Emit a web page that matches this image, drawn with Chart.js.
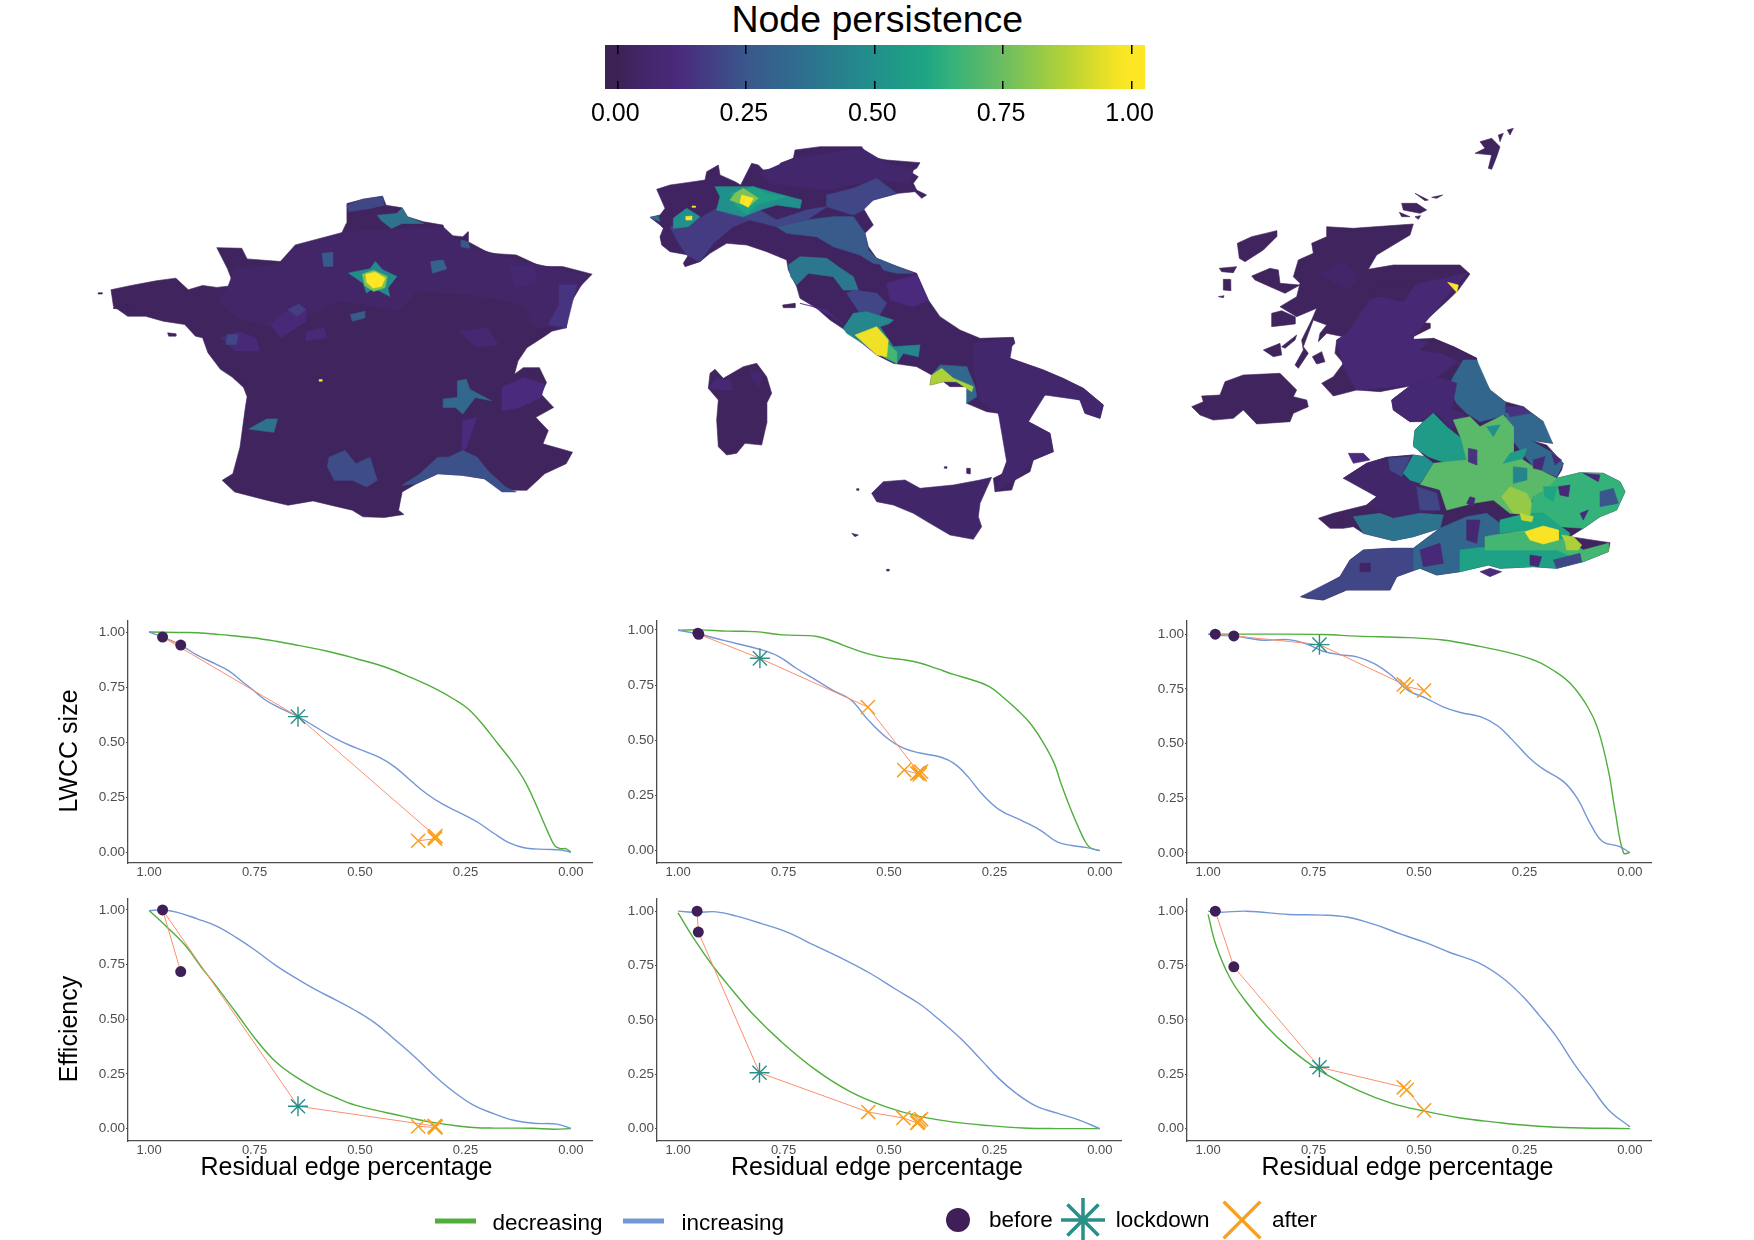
<!DOCTYPE html>
<html><head><meta charset="utf-8"><title>Node persistence</title>
<script src="https://cdn.jsdelivr.net/npm/chart.js@4"></script>
<style>
html,body{margin:0;padding:0;background:#fff;width:1754px;height:1240px;overflow:hidden;font-family:"Liberation Sans",Arial,sans-serif;color:#000}
canvas{position:absolute;display:block}
.t{position:absolute;white-space:nowrap;line-height:1}
.c{transform:translate(-50%,-50%)}
.r{transform:translate(-50%,-50%) rotate(-90deg)}
.l{transform:translateY(-50%);font-size:22.5px}
</style></head><body>
<script>
/* ---------- tick labels ---------- */
const xTicks=[1,0.75,0.5,0.25,0];
const yTicks=[0,0.25,0.5,0.75,1];
const colorbarTicks=[0,0.25,0.5,0.75,1];
const colorbarRange=[-0.0239,1.0261];
const colorStops=[0,0.05,0.12,0.25,0.375,0.5,0.6,0.65,0.75,0.875,0.97,1];
const colorValues=['#3d2255','#42266a','#4a2a7c','#3a578c','#2d728e','#21908c','#1ea583','#34b27a','#6cbd61','#b5d335','#f5e324','#fde725'];

/* ---------- curves: [edge share, metric] ---------- */
const lwccFranceDecreasing=[[1,1],[.933,.998],[.886,.997],[.83,.988],[.755,.974],[.699,.958],[.643,.938],[.577,.913],[.511,.88],[.436,.838],[.38,.794],[.324,.745],[.277,.695],[.244,.652],[.211,.585],[.173,.493],[.136,.402],[.108,.319],[.08,.205],[.056,.099],[.038,.03],[.023,.017],[.012,.017],[0,0]];
const lwccFranceIncreasing=[[1,1],[.968,.977],[.925,.941],[.886,.895],[.844,.857],[.811,.824],[.783,.781],[.755,.739],[.727,.695],[.699,.664],[.647,.616],[.605,.569],[.558,.516],[.511,.475],[.455,.432],[.417,.387],[.38,.326],[.342,.266],[.305,.22],[.258,.175],[.221,.137],[.183,.087],[.146,.043],[.108,.02],[.061,.014],[.023,.011],[0,0]];
const effFranceIncreasing=[[1,.997],[.968,1],[.933,.989],[.886,.959],[.839,.925],[.792,.872],[.745,.811],[.699,.745],[.647,.682],[.605,.635],[.558,.589],[.511,.54],[.464,.482],[.417,.406],[.37,.327],[.324,.243],[.277,.167],[.23,.106],[.183,.068],[.136,.038],[.089,.024],[.033,.02],[0,0]];
const effFranceDecreasing=[[1,.997],[.961,.928],[.914,.837],[.876,.738],[.839,.647],[.792,.525],[.745,.403],[.699,.304],[.652,.236],[.605,.183],[.558,.142],[.511,.107],[.464,.084],[.417,.064],[.37,.044],[.324,.027],[.277,.014],[.23,.005],[.183,.002],[.136,.002],[.089,.001],[.04,-.003],[0,0]];
const lwccItalyDecreasing=[[1,.998],[.949,1],[.883,.994],[.818,.992],[.753,.977],[.671,.97],[.631,.947],[.59,.917],[.549,.891],[.508,.874],[.467,.865],[.427,.85],[.386,.824],[.345,.797],[.304,.774],[.263,.744],[.231,.697],[.198,.641],[.165,.576],[.133,.485],[.108,.394],[.092,.303],[.071,.197],[.051,.106],[.034,.038],[.022,.012],[0,0]];
const lwccItalyIncreasing=[[1,.998],[.953,.982],[.892,.952],[.802,.909],[.761,.879],[.72,.826],[.671,.77],[.631,.724],[.59,.682],[.549,.591],[.508,.515],[.467,.465],[.427,.442],[.378,.424],[.345,.394],[.312,.333],[.28,.258],[.239,.186],[.182,.133],[.14,.091],[.1,.038],[.067,.023],[.034,.015],[0,0]];
const effItalyIncreasing=[[1,1],[.955,.994],[.91,.997],[.861,.977],[.804,.944],[.739,.901],[.674,.84],[.608,.779],[.542,.711],[.485,.642],[.428,.574],[.379,.498],[.33,.414],[.281,.315],[.24,.231],[.199,.163],[.15,.102],[.101,.071],[.052,.041],[0,0]];
const effItalyDecreasing=[[1,.992],[.959,.863],[.918,.749],[.877,.65],[.82,.521],[.755,.399],[.673,.269],[.592,.17],[.51,.102],[.428,.056],[.346,.03],[.265,.014],[.183,.003],[.101,0],[0,0]];
const lwccUkDecreasing=[[1,1],[.851,1],[.729,.998],[.647,.991],[.525,.984],[.443,.973],[.361,.946],[.28,.912],[.223,.878],[.182,.835],[.141,.774],[.1,.667],[.076,.567],[.051,.376],[.035,.191],[.015,0],[0,.002]];
const lwccUkIncreasing=[[1,1],[.983,.994],[.939,.992],[.9,.98],[.867,.972],[.81,.975],[.769,.957],[.729,.923],[.688,.906],[.647,.896],[.606,.865],[.565,.811],[.525,.742],[.484,.708],[.443,.668],[.402,.642],[.353,.622],[.313,.58],[.28,.519],[.239,.435],[.207,.385],[.158,.327],[.125,.25],[.092,.127],[.064,.051],[.027,.031],[0,.002]];
const effUkIncreasing=[[1,1],[.974,.995],[.908,1],[.81,.985],[.729,.982],[.672,.973],[.606,.939],[.541,.893],[.484,.855],[.427,.81],[.361,.764],[.304,.696],[.256,.612],[.215,.521],[.174,.422],[.133,.3],[.092,.193],[.051,.087],[0,.008]];
const effUkDecreasing=[[1,.985],[.982,.848],[.949,.696],[.909,.581],[.86,.467],[.811,.376],[.737,.269],[.647,.178],[.566,.117],[.484,.079],[.402,.049],[.321,.03],[.239,.014],[.158,.005],[0,0]];

/* ---------- periods: two before, one lockdown, the rest after ---------- */
const lwccFrancePeriods=[[.925,.941],[.968,.977],[.647,.616],[.321,.074],[.323,.068],[.322,.062],[.362,.053]];
const effFrancePeriods=[[.925,.718],[.968,1],[.647,.102],[.323,.012],[.321,.008],[.322,.005],[.362,.01]];
const lwccItalyPeriods=[[.953,.985],[.951,.98],[.806,.871],[.55,.65],[.429,.353],[.433,.349],[.424,.358],[.427,.345],[.464,.365]];
const effItalyPeriods=[[.955,1],[.952,.904],[.807,.257],[.549,.076],[.466,.049],[.433,.026],[.424,.044],[.428,.038],[.431,.03]];
const lwccUkPeriods=[[.983,1],[.939,.992],[.736,.952],[.536,.77],[.529,.76],[.488,.742]];
const effUkPeriods=[[.983,1],[.939,.744],[.736,.282],[.536,.19],[.529,.178],[.488,.084]];

/* ---------- maps: [node persistence, outline in projected map units] ---------- */
const franceRegions=[
[.02,[[143,325],[200,312],[270,298],[325,290],[360,325],[400,312],[440,318],[488,312],[470,262],[440,198],[510,200],[525,232],[620,240],[650,225],[650,212],[690,185],[760,170],[790,155],[803,125],[805,65],[850,52],[905,43],[915,70],[960,78],[975,105],[1020,120],[1075,130],[1080,160],[1130,165],[1145,150],[1145,180],[1205,215],[1280,220],[1320,240],[1350,255],[1410,255],[1493,278],[1455,320],[1430,370],[1420,440],[1380,450],[1360,465],[1310,500],[1285,540],[1275,580],[1300,560],[1345,560],[1365,605],[1350,640],[1385,680],[1335,710],[1370,750],[1355,790],[1438,815],[1420,850],[1360,880],[1310,930],[1250,930],[1190,895],[1130,885],[1060,880],[1000,910],[960,935],[950,990],[965,1003],[910,1012],[850,1010],[820,990],[760,975],[710,962],[640,975],[580,960],[490,935],[455,900],[485,880],[505,800],[520,680],[525,648],[515,620],[485,590],[450,565],[415,515],[400,470],[380,465],[350,430],[290,420],[240,405],[190,405],[150,375]]],
[.045,[[660,190],[800,150],[1075,135],[1130,190],[1300,240],[1480,280],[1430,370],[1420,440],[1330,440],[1300,370],[1150,340],[1000,330],[950,390],[850,370],[780,360],[700,400],[600,440],[500,410],[440,360],[470,320],[490,260],[610,250]]],
[.08,[[1120,450],[1200,440],[1230,490],[1170,500]]],
[.12,[[1240,620],[1300,590],[1360,610],[1350,650],[1290,680],[1240,690]]],
[.08,[[1260,250],[1330,250],[1340,300],[1280,320]]],
[.15,[[1400,310],[1450,310],[1420,440],[1370,430],[1400,370]]],
[.1,[[590,430],[660,370],[690,380],[690,420],[620,470]]],
[.1,[[450,470],[500,450],[550,470],[560,510],[490,510]]],
[.1,[[690,450],[740,440],[750,470],[690,480]]],
[.12,[[1130,720],[1170,710],[1140,800],[1125,830]]],
[.22,[[755,830],[800,810],[830,850],[870,830],[890,900],[860,920],[820,900],[770,900],[750,860]]],
[.23,[[960,915],[1010,880],[1060,830],[1090,830],[1130,810],[1170,830],[1200,870],[1250,920],[1280,935],[1240,935],[1190,895],[1130,885],[1060,880],[1000,910]]],
[.33,[[1115,600],[1140,595],[1150,625],[1210,660],[1165,650],[1130,700],[1110,680],[1075,680],[1075,655],[1115,650]]],
[.18,[[640,385],[670,368],[690,385],[665,405]]],
[.2,[[470,460],[500,460],[495,490],[465,490]]],
[.26,[[735,215],[765,212],[765,255],[740,255]]],
[.3,[[1040,240],[1075,235],[1085,262],[1045,275]]],
[.28,[[815,400],[855,390],[855,410],[820,420]]],
[.2,[[805,70],[850,52],[905,43],[910,70],[870,80],[810,90]]],
[.38,[[890,100],[945,95],[960,78],[975,105],[1020,125],[960,125],[930,140],[900,115]]],
[.38,[[530,745],[580,715],[610,715],[600,755],[560,750]]],
[.25,[[1125,175],[1145,180],[1150,200],[1125,195]]],
[.48,[[820,272],[870,262],[885,240],[905,265],[945,285],[920,320],[925,345],[880,320],[860,335],[850,305],[810,275]]],
[.78,[[848,278],[880,266],[918,285],[912,318],[880,330],[855,312]]],
[1,[[858,278],[885,272],[912,290],[902,315],[878,320],[860,302]]],
[1,[[727,596],[735,596],[735,601],[727,601]]],
[.02,[[107,334],[118,334],[118,338],[107,338]]],
[.02,[[150,378],[190,370],[190,382],[150,382]]],
[.02,[[302,455],[325,458],[325,465],[305,465]]],
[.02,[[480,580],[525,600],[525,612],[490,595]]]
];
const italyRegions=[
[.03,[[110,178],[150,165],[200,158],[255,150],[260,125],[295,105],[300,135],[345,155],[362,165],[395,100],[415,105],[430,120],[470,115],[490,125],[480,100],[520,85],[525,60],[600,50],[725,50],[745,80],[800,90],[900,98],[890,115],[870,125],[895,140],[880,160],[890,180],[920,195],[905,205],[885,185],[835,190],[760,210],[730,235],[745,260],[760,285],[735,310],[745,350],[770,385],[820,405],[890,430],[925,510],[960,560],[1020,600],[1080,625],[1180,622],[1185,640],[1155,665],[1170,685],[1270,720],[1330,745],[1390,775],[1450,825],[1440,865],[1395,850],[1380,810],[1310,790],[1275,795],[1240,830],[1225,875],[1290,910],[1300,965],[1240,990],[1230,1025],[1185,1050],[1175,1080],[1125,1085],[1120,1045],[1150,1030],[1160,995],[1185,970],[1165,920],[1135,850],[1100,845],[1040,820],[1060,790],[1040,770],[990,770],[970,755],[930,765],[935,735],[890,710],[820,700],[770,675],[690,610],[630,570],[590,535],[540,505],[530,470],[505,420],[500,390],[440,365],[380,345],[320,340],[270,370],[240,395],[195,410],[190,400],[205,375],[150,365],[125,345],[120,320],[130,295],[120,285],[90,262],[120,255],[135,235]]],
[.02,[[265,775],[270,730],[285,718],[310,745],[370,710],[410,700],[440,740],[455,790],[440,820],[440,880],[425,945],[375,940],[350,970],[320,975],[295,950],[290,870],[295,810]]],
[.05,[[755,1090],[790,1055],[855,1050],[900,1075],[1000,1065],[1080,1050],[1115,1042],[1080,1120],[1075,1160],[1085,1190],[1060,1228],[990,1215],[930,1180],[880,1150],[820,1125],[770,1115]]],
[.02,[[488,525],[525,520],[525,533],[490,533]]],
[.02,[[695,1210],[715,1215],[705,1220]]],
[.02,[[1040,1015],[1050,1015],[1050,1032],[1040,1030]]],
[.06,[[1060,640],[1180,625],[1170,685],[1270,720],[1390,775],[1450,825],[1440,865],[1395,850],[1380,810],[1275,795],[1225,875],[1290,910],[1300,965],[1240,990],[1185,1050],[1125,1085],[1160,995],[1135,850],[1080,810],[1060,720]]],
[.06,[[520,85],[725,55],[800,100],[880,120],[870,160],[760,150],[620,180],[540,170],[450,160],[420,130]]],
[.2,[[620,195],[700,175],[770,145],[830,190],[760,210],[730,240],[700,255],[620,230]]],
[.27,[[470,290],[560,270],[640,260],[700,260],[735,310],[745,360],[770,385],[830,410],[760,400],[720,375],[640,350],[590,320],[500,310]]],
[.17,[[150,290],[230,270],[290,235],[340,260],[390,270],[340,290],[280,340],[240,395],[200,375],[170,330]]],
[.2,[[290,240],[420,240],[470,270],[560,240],[620,230],[560,270],[470,290],[390,270],[340,260]]],
[.25,[[770,385],[820,405],[880,430],[830,430],[790,420]]],
[.12,[[800,460],[890,435],[925,510],[880,530],[810,510]]],
[.5,[[285,170],[340,170],[400,170],[470,190],[545,210],[540,235],[470,225],[420,240],[370,260],[290,240],[300,200]]],
[.58,[[330,190],[400,170],[440,190],[500,200],[410,225],[380,255],[345,225]]],
[.78,[[345,190],[370,175],[415,205],[385,230],[330,210]]],
[1,[[365,195],[400,205],[385,232],[360,218]]],
[.5,[[160,265],[200,235],[240,260],[205,290],[160,295]]],
[1,[[197,260],[215,258],[215,270],[198,270]]],
[1,[[216,228],[226,228],[226,232],[216,232]]],
[.35,[[90,262],[115,258],[120,275]]],
[.4,[[505,405],[540,380],[620,385],[655,410],[700,440],[715,480],[670,480],[640,440],[565,430],[530,465],[512,440]]],
[.2,[[700,480],[770,490],[800,520],[770,570],[720,550],[680,490]]],
[.12,[[540,520],[620,540],[690,600],[640,560],[580,530]]],
[.46,[[700,550],[740,545],[820,570],[810,580],[780,590],[820,650],[900,645],[895,680],[850,670],[830,700],[790,680],[680,610],[670,595]]],
[.68,[[780,620],[830,665],[830,700],[790,680]]],
[.96,[[705,615],[770,590],[805,630],[800,680],[770,675]]],
[.33,[[940,730],[960,705],[1040,710],[1065,770],[1070,800],[1040,820],[1040,770]]],
[.86,[[935,735],[965,715],[1000,745],[1060,770],[1055,785],[1010,755],[970,755],[930,765]]],
[.09,[[265,775],[290,745],[330,750],[340,780],[290,780]]],
[.07,[[390,720],[430,730],[420,770],[395,750]]],
[.02,[[800,1318],[807,1318],[807,1323],[800,1323]]],
[.02,[[973,1010],[980,1010],[980,1015],[973,1015]]],
[.02,[[710,1076],[716,1076],[716,1081],[710,1081]]]
];
const ukRegions=[
[.02,[[440,320],[520,325],[700,312],[690,345],[640,375],[590,405],[565,448],[640,435],[740,435],[840,435],[870,462],[835,510],[810,535],[750,590],[690,605],[750,610],[750,625],[700,650],[620,650],[700,658],[760,655],[820,680],[890,715],[895,750],[930,810],[975,845],[1030,860],[1090,905],[1080,930],[1118,970],[1050,960],[1100,975],[1150,1030],[1145,1050],[1130,1075],[1200,1058],[1270,1060],[1320,1085],[1335,1115],[1310,1170],[1260,1190],[1210,1225],[1170,1250],[1290,1268],[1285,1295],[1210,1325],[1130,1345],[1060,1340],[960,1345],[925,1335],[840,1355],[770,1365],[720,1345],[650,1370],[630,1410],[570,1410],[500,1410],[430,1440],[380,1435],[362,1430],[400,1415],[480,1370],[510,1320],[550,1290],[640,1285],[700,1285],[780,1225],[700,1250],[640,1262],[550,1240],[520,1220],[490,1225],[450,1225],[415,1195],[460,1180],[560,1155],[590,1130],[570,1075],[490,1075],[560,1030],[620,1012],[700,1005],[735,1010],[700,975],[705,930],[730,905],[690,905],[640,870],[635,840],[690,798],[600,815],[530,810],[460,828],[425,790],[460,770],[490,730],[465,700],[470,660],[490,650],[440,640],[415,665],[420,640],[440,615],[400,600],[385,640],[370,680],[385,700],[355,745],[345,735],[370,690],[365,660],[395,600],[410,565],[350,590],[300,560],[350,530],[360,490],[340,470],[355,420],[400,400],[395,370],[440,350]]],
[.02,[[35,860],[70,845],[65,828],[120,825],[135,785],[190,765],[300,760],[350,810],[340,830],[380,840],[385,860],[340,880],[330,905],[230,912],[190,870],[160,895],[100,900],[60,885]]],
[.02,[[215,468],[270,445],[295,450],[300,490],[360,495],[315,520],[270,500],[225,480]]],
[.02,[[172,370],[215,350],[290,332],[290,350],[250,390],[195,425],[178,415]]],
[.02,[[118,445],[170,440],[160,458],[125,455]]],
[.02,[[130,478],[150,478],[152,512],[130,510]]],
[.02,[[115,530],[132,527],[130,533]]],
[.02,[[275,580],[305,572],[345,590],[345,612],[275,620]]],
[.02,[[250,690],[300,670],[305,705],[280,710]]],
[.02,[[305,680],[350,645],[345,660],[315,685]]],
[.02,[[397,710],[425,695],[435,725],[410,732]]],
[.02,[[665,250],[710,250],[740,270],[720,280],[670,270]]],
[.02,[[705,220],[745,240],[735,242]]],
[.02,[[755,232],[788,225],[770,235]]],
[.02,[[658,277],[690,290],[665,290]]],
[.02,[[705,290],[722,287],[715,298]]],
[.02,[[900,65],[935,55],[960,80],[950,110],[935,148],[925,145],[935,105],[885,100],[915,85]]],
[.02,[[955,45],[970,40],[960,65]]],
[.02,[[982,30],[1000,25],[990,45]]],
[.12,[[505,1000],[550,1000],[570,1020],[520,1030]]],
[.12,[[900,1355],[930,1345],[965,1355],[930,1370]]],
[.05,[[420,460],[490,425],[540,470],[500,510]]],
[.09,[[570,540],[720,490],[860,460],[750,590],[700,650],[700,658],[820,680],[890,715],[880,740],[830,730],[770,770],[700,795],[530,810],[490,740],[470,660],[500,640]]],
[.02,[[760,655],[820,680],[890,715],[860,740],[790,700],[720,690]]],
[.02,[[620,480],[710,485],[670,545],[560,520]]],
[.32,[[850,720],[890,720],[930,810],[975,845],[975,885],[900,905],[860,880],[830,850],[805,800],[820,770]]],
[.33,[[975,880],[1030,865],[1090,905],[1118,970],[1050,960],[1120,1000],[1150,1030],[1130,1070],[1060,1040],[1020,990],[990,950]]],
[.15,[[975,860],[1030,860],[1050,880],[990,890]]],
[.08,[[635,840],[690,798],[770,770],[830,790],[815,870],[850,880],[860,910],[810,925],[770,880],[720,900],[690,905],[640,870]]],
[.55,[[730,905],[760,880],[800,920],[850,960],[860,1000],[860,1030],[800,1030],[745,1010],[700,980],[705,930]]],
[.72,[[820,900],[870,890],[900,920],[970,885],[1000,920],[1000,1000],[1060,1040],[1130,1075],[1150,1090],[1100,1110],[1060,1130],[1040,1180],[990,1180],[940,1140],[880,1150],[800,1170],[780,1110],[720,1095],[760,1030],[860,1020],[845,960]]],
[.65,[[1130,1075],[1200,1058],[1270,1060],[1320,1085],[1335,1115],[1310,1170],[1260,1190],[1210,1225],[1140,1220],[1090,1180],[1050,1180],[1060,1130],[1100,1110]]],
[.05,[[490,1075],[560,1030],[620,1012],[700,1005],[690,1040],[670,1075],[720,1095],[775,1110],[785,1170],[730,1190],[640,1190],[560,1155],[590,1130]]],
[.2,[[625,1015],[690,1010],[665,1070],[630,1050]]],
[.2,[[710,1100],[770,1120],[780,1170],[720,1170]]],
[.38,[[520,1190],[600,1180],[640,1195],[720,1180],[790,1185],[780,1225],[700,1250],[640,1262],[550,1240]]],
[.5,[[670,1060],[700,1005],[735,1010],[760,1030],[720,1090],[690,1080]]],
[.2,[[362,1430],[480,1370],[510,1320],[550,1290],[620,1285],[700,1285],[700,1350],[650,1370],[630,1410],[500,1410],[430,1440]]],
[.04,[[540,1330],[570,1330],[570,1355],[540,1355]]],
[.32,[[700,1285],[780,1225],[860,1190],[920,1180],[960,1210],[960,1260],[880,1290],[840,1355],[770,1365],[720,1345],[700,1350]]],
[.08,[[860,1200],[900,1200],[890,1270],[860,1260]]],
[.1,[[720,1290],[780,1270],[790,1330],[730,1340]]],
[.58,[[840,1290],[920,1280],[1130,1280],[1210,1325],[1130,1345],[1060,1340],[960,1345],[925,1335],[840,1355]]],
[.68,[[915,1250],[1030,1230],[1160,1260],[1210,1290],[1285,1270],[1285,1295],[1210,1325],[1130,1290],[1000,1290],[915,1290]]],
[.6,[[960,1200],[1040,1180],[1090,1180],[1170,1240],[1160,1260],[1030,1230],[960,1240]]],
[.82,[[965,1130],[990,1100],[1040,1120],[1055,1150],[1050,1185],[1000,1180]]],
[.86,[[1145,1245],[1180,1250],[1205,1275],[1195,1290],[1160,1290],[1155,1265]]],
[.9,[[1020,1180],[1060,1190],[1055,1205],[1025,1200]]],
[.98,[[1035,1235],[1090,1218],[1135,1230],[1135,1260],[1090,1272],[1050,1260]]],
[1,[[803,487],[835,495],[830,517]]],
[.1,[[1060,1020],[1095,1010],[1085,1050],[1060,1045]]],
[.1,[[1115,1000],[1145,1020],[1125,1035]]],
[.1,[[1135,1100],[1170,1095],[1165,1130],[1140,1125]]],
[.1,[[1210,1060],[1260,1065],[1255,1085]]],
[.25,[[1260,1115],[1300,1105],[1315,1150],[1260,1160]]],
[.1,[[1200,1180],[1225,1170],[1210,1200]]],
[.15,[[865,985],[890,990],[890,1035],[865,1025]]],
[.45,[[1000,1040],[1040,1045],[1040,1080],[1000,1090]]],
[.5,[[920,920],[960,915],[940,950]]],
[.55,[[990,1000],[1040,985],[1030,1015],[970,1030]]],
[.6,[[1090,1100],[1130,1100],[1120,1145],[1095,1130]]],
[.1,[[1050,1305],[1085,1310],[1075,1340],[1050,1335]]],
[.2,[[1120,1320],[1200,1300],[1205,1325],[1130,1345]]],
[.1,[[870,1130],[885,1135],[880,1160],[860,1150]]]
];

/* ---------- legend ---------- */
const legendLines=[['decreasing',435,476],['increasing',623,664]];
const legendMarkers=[['before',958],['lockdown',1083],['after',1242]];

/* ---------- look ---------- */
const GREEN='#4fae3c',BLUE='#7396d6',PATH='#fb8e6e',BEFORE='#3f1f57',LOCK='#2a8f88',AFTER='#f8a020',FONT='"Liberation Sans",Arial,sans-serif';
Chart.defaults.font.family=FONT;Chart.defaults.animation=false;Chart.defaults.devicePixelRatio=1;Chart.defaults.responsive=false;
Chart.defaults.plugins.legend.display=false;Chart.defaults.plugins.tooltip.enabled=false;Chart.defaults.layout.autoPadding=false;

function addCanvas(x,y,w,h){const c=document.createElement('canvas');c.width=w;c.height=h;c.style.left=x+'px';c.style.top=y+'px';c.style.width=w+'px';c.style.height=h+'px';document.body.appendChild(c);return c;}
function addText(s,x,y,cls,size){const d=document.createElement('div');d.className='t '+cls;d.textContent=s;d.style.left=x+'px';d.style.top=y+'px';if(size)d.style.fontSize=size+'px';document.body.appendChild(d);}
const pts=a=>a.map(p=>({x:p[0],y:p[1]}));
function viridis(v){let i=0;while(i<colorStops.length-2&&v>colorStops[i+1])i++;const t=Math.min(1,Math.max(0,(v-colorStops[i])/(colorStops[i+1]-colorStops[i])));
  const a=colorValues[i],b=colorValues[i+1];const ch=(s,k)=>parseInt(s.substr(1+2*k,2),16);
  return 'rgb('+[0,1,2].map(k=>Math.round(ch(a,k)+(ch(b,k)-ch(a,k))*t)).join(',')+')';}

/* ---------- colour bar ---------- */
new Chart(addCanvas(560,41,640,100),{type:'bar',
  data:{labels:['Node persistence'],datasets:[{data:[colorbarRange],barPercentage:1,categoryPercentage:1,
    backgroundColor(ctx){const {chart}=ctx;const s=chart.scales.x;if(!s||!chart.chartArea)return colorValues[0];
      const g=chart.ctx.createLinearGradient(s.getPixelForValue(colorbarRange[0]),0,s.getPixelForValue(colorbarRange[1]),0);
      const span=colorbarRange[1]-colorbarRange[0];
      g.addColorStop(0,colorValues[0]);
      colorStops.forEach((v,i)=>g.addColorStop((v-colorbarRange[0])/span,colorValues[i]));
      g.addColorStop(1,colorValues[colorValues.length-1]);return g;}}]},
  options:{indexAxis:'y',layout:{padding:{left:45,right:55,top:4,bottom:0}},
   scales:{y:{display:false},
    x:{min:colorbarRange[0],max:colorbarRange[1],afterBuildTicks(s){s.ticks=colorbarTicks.map(v=>({value:v}));},afterFit(s){s.height=52;},
      grid:{z:1,color:'#000',lineWidth:1.5,drawTicks:false},border:{display:false,dash:[9,27]},
      ticks:{color:'#000',font:{size:25},padding:10,labelOffset:-2,maxRotation:0,autoSkip:false,callback:v=>v.toFixed(2)}}}}});

/* ---------- maps ---------- */
function mapChart(rect,units,regions){
  new Chart(addCanvas(rect[0],rect[1],rect[2],rect[3]),{type:'scatter',
   data:{datasets:regions.map((r,i)=>{const col=viridis(r[0]);return{data:pts(r[1].concat([r[1][0]])),showLine:true,fill:'shape',backgroundColor:col,borderColor:col,borderWidth:0.6,pointRadius:0,tension:0,order:regions.length-i};})},
   options:{layout:{padding:0},scales:{x:{display:false,min:0,max:units[0]},y:{display:false,reverse:true,min:0,max:units[1]}}}});
}
mapChart([60,182,556,358],[1560,1080],franceRegions);
mapChart([620,130,520,460],[1560,1380],italyRegions);
mapChart([1180,120,480,490],[1440,1470],ukRegions);

/* ---------- panels ---------- */
function panel(rect,yRange,dec,inc,periods){
  const [left,top,w,h]=rect,ml=50,mb=28,mt=14,mr=20;
  const line=(d,c,o)=>({data:pts(d),showLine:true,borderColor:c,borderWidth:1.4,pointRadius:0,tension:.4,fill:false,order:o});
  const marker=(d,s,r,c,lw)=>({data:pts(d),showLine:false,pointStyle:s,pointRadius:r,pointBackgroundColor:c,pointBorderColor:c,pointBorderWidth:lw,order:0});
  new Chart(addCanvas(left-ml,top-mt,w+ml+mr,h+mb+mt),{type:'scatter',
   data:{datasets:[
     marker(periods.slice(0,2),'circle',5.5,BEFORE,0),
     marker(periods.slice(2,3),'star',10,LOCK,1.4),
     marker(periods.slice(3),'crossRot',10,AFTER,1.5),
     {data:pts(periods),showLine:true,borderColor:PATH,borderWidth:1,pointRadius:0,tension:0,fill:false,order:1},
     line(inc,BLUE,2),line(dec,GREEN,3)]},
   options:{clip:false,layout:{padding:{top:mt,right:mr,left:0,bottom:0}},
    scales:{
     x:{reverse:true,min:-.05,max:1.05,afterBuildTicks(s){s.ticks=xTicks.map(v=>({value:v}));},afterFit(s){s.height=mb;},
       grid:{display:false,drawTicks:false},border:{display:true,color:'#4d4d4d',width:1.3},
       ticks:{color:'#4d4d4d',font:{size:13},padding:2,maxRotation:0,autoSkip:false,callback:v=>v.toFixed(2)}},
     y:{min:yRange[0],max:yRange[1],afterBuildTicks(s){s.ticks=yTicks.map(v=>({value:v}));},afterFit(s){s.width=ml;},
       grid:{drawOnChartArea:false,drawTicks:true,tickLength:2,color:'#4d4d4d'},border:{display:true,color:'#4d4d4d',width:1.3},
       ticks:{color:'#4d4d4d',font:{size:13.5},padding:1,autoSkip:false,callback:v=>v.toFixed(2)}}}}});
}
const colLeft=[128,657,1187],plotW=464,rowTop=[621,899],plotH=242;
panel([colLeft[0],rowTop[0],plotW,plotH],[-.048,1.05],lwccFranceDecreasing,lwccFranceIncreasing,lwccFrancePeriods);
panel([colLeft[1],rowTop[0],plotW,plotH],[-.056,1.04],lwccItalyDecreasing,lwccItalyIncreasing,lwccItalyPeriods);
panel([colLeft[2],rowTop[0],plotW,plotH],[-.046,1.06],lwccUkDecreasing,lwccUkIncreasing,lwccUkPeriods);
panel([colLeft[0],rowTop[1],plotW,plotH],[-.057,1.05],effFranceDecreasing,effFranceIncreasing,effFrancePeriods);
panel([colLeft[1],rowTop[1],plotW,plotH],[-.057,1.056],effItalyDecreasing,effItalyIncreasing,effItalyPeriods);
panel([colLeft[2],rowTop[1],plotW,plotH],[-.057,1.056],effUkDecreasing,effUkIncreasing,effUkPeriods);

/* ---------- legend keys ---------- */
new Chart(addCanvas(0,1150,1754,90),{type:'scatter',
 data:{datasets:[
  {data:[{x:legendLines[0][1],y:71},{x:legendLines[0][2],y:71}],showLine:true,borderColor:GREEN,borderWidth:5,pointRadius:0},
  {data:[{x:legendLines[1][1],y:71},{x:legendLines[1][2],y:71}],showLine:true,borderColor:BLUE,borderWidth:5,pointRadius:0},
  {data:[{x:legendMarkers[0][1],y:70}],pointStyle:'circle',pointRadius:12,pointBackgroundColor:BEFORE,pointBorderWidth:0},
  {data:[{x:legendMarkers[1][1],y:70}],pointStyle:'star',pointRadius:22,pointBorderColor:LOCK,pointBorderWidth:3.5},
  {data:[{x:legendMarkers[2][1],y:70}],pointStyle:'crossRot',pointRadius:26,pointBorderColor:AFTER,pointBorderWidth:3.5}]},
 options:{layout:{padding:0},scales:{x:{display:false,min:0,max:1754},y:{display:false,reverse:true,min:0,max:90}}}});

/* ---------- titles ---------- */
addText('Node persistence',877.3,20,'c',37.5);
addText('LWCC size',67.6,751,'r',25);
addText('Efficiency',67.6,1029,'r',25);
[346.5,877,1407.5].forEach(x=>addText('Residual edge percentage',x,1166,'c',25));
addText('decreasing',492.4,1222.5,'l');
addText('increasing',681.5,1222.5,'l');
addText('before',989,1220,'l');
addText('lockdown',1115.7,1220,'l');
addText('after',1272,1220,'l');
</script>
</body></html>
